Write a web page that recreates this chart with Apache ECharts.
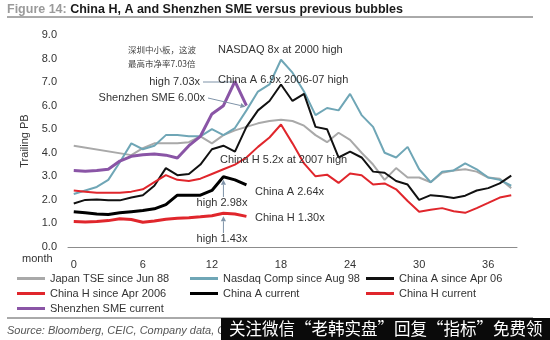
<!DOCTYPE html>
<html><head><meta charset="utf-8">
<script src="https://cdn.jsdelivr.net/npm/echarts@6/dist/echarts.min.js"></script>
<style>html,body{margin:0;padding:0;background:#fff}#c{width:550px;height:340px}</style>
</head><body><div id="c"></div>
<script>
// ---- data ----
const months = ["0","1","2","3","4","5","6","7","8","9","10","11","12","13","14","15","16","17","18","19","20","21","22","23","24","25","26","27","28","29","30","31","32","33","34","35","36","37","38"];
const yTicks = [0,1,2,3,4,5,6,7,8,9];
const japanTSE = [4.3,null,null,null,null,3.9,4.2,4.4,4.4,4.4,4.45,4.7,4.4,4.75,4.95,5.1,5.25,5.35,5.4,5.35,5.15,4.75,4.45,4.85,4.55,4.0,3.5,2.85,3.35,2.95,2.95,2.75,3.15,3.25,3.3,3.2,2.95,2.9,2.5];
const nasdaq = [2.25,2.4,2.55,2.85,3.6,4.4,4.15,4.3,4.75,4.75,4.7,4.7,5.0,4.75,5.05,5.8,6.6,6.9,7.95,7.4,6.6,5.6,5.9,5.8,6.5,5.6,5.1,4.0,3.8,4.25,3.3,2.75,3.2,3.25,3.55,3.3,2.95,2.85,2.6];
const chinaASince = [1.85,2.0,2.02,1.98,1.98,2.1,2.2,2.6,3.35,3.05,3.1,3.5,4.15,4.3,4.05,5.1,5.8,6.2,6.9,6.2,6.5,5.1,5.0,3.8,4.05,3.8,3.2,3.15,2.8,2.65,2.0,2.2,2.15,2.08,2.18,2.4,2.5,2.7,3.03];
const chinaHSince = [2.4,2.35,2.3,2.3,2.3,2.35,2.45,2.75,3.05,2.85,2.8,2.9,3.1,3.3,3.5,3.8,4.25,4.65,5.2,4.4,3.55,3.0,3.07,2.72,3.12,3.05,2.65,2.7,2.45,1.95,1.5,1.58,1.65,1.52,1.45,1.65,1.87,2.1,2.2];
const chinaACurrent = [1.5,1.45,1.4,1.38,1.45,1.5,1.55,1.62,1.8,2.2,2.2,2.2,2.4,2.98,2.85,2.64];
const chinaHCurrent = [1.08,1.06,1.08,1.12,1.2,1.17,1.05,1.1,1.18,1.22,1.24,1.28,1.33,1.43,1.4,1.30];
const smeCurrent = [3.25,3.22,3.25,3.3,3.65,3.85,3.92,3.95,3.9,3.78,4.3,4.7,5.65,6.0,7.03,6.0];
const seriesNames = ["Japan TSE since Jun 88","Nasdaq Comp since Aug 98","China A since Apr 06","China H since Apr 2006","China A current","China H current","Shenzhen SME current"];

const FONT = '"Liberation Sans", Arial, sans-serif';
const CJK = '"Noto Sans CJK SC", sans-serif';
const chart = echarts.init(document.getElementById('c'), null, {renderer:'canvas'});

function mk(name, data, color, width, z){
  return {name, type:'line', data, symbol:'none', smooth:false, connectNulls:true,
    lineStyle:{color, width}, itemStyle:{color}, z};
}
const legendBase = {orient:'vertical', icon:'rect', itemWidth:28, itemHeight:3, itemGap:4,
  textStyle:{color:'#333', fontSize:11, fontFamily:FONT}, padding:0, selectedMode:false};

chart.setOption({
  animation:false,
  textStyle:{fontFamily:FONT},
  title:{left:7, top:3, padding:0,
    text:'{a|Figure 14: }{b|China H, A and Shenzhen SME versus previous bubbles}',
    textStyle:{rich:{a:{color:'#9a9a9a', fontSize:12.5, fontFamily:FONT},
                     b:{color:'#1a1a1a', fontSize:12.5, fontWeight:'bold', fontFamily:FONT}}}},
  grid:{left:68, right:33, top:35, bottom:93},
  xAxis:{type:'category', data:months, boundaryGap:true,
    axisLine:{lineStyle:{color:'#8c8c8c', width:1}},
    axisTick:{interval:0, length:3, lineStyle:{color:'#8c8c8c'}},
    axisLabel:{interval:5, color:'#333', fontSize:11, margin:12, fontFamily:FONT}},
  yAxis:{type:'value', min:yTicks[0], max:yTicks[yTicks.length-1], interval:1,
    axisLine:{show:false}, axisTick:{show:false}, splitLine:{show:false},
    axisLabel:{formatter:v=>v.toFixed(1), color:'#333', fontSize:11, margin:11, fontFamily:FONT},
    name:'Trailing PB', nameLocation:'middle', nameRotate:90, nameGap:38,
    nameTextStyle:{color:'#333', fontSize:11, fontFamily:FONT}},
  legend:[
    Object.assign({left:17, top:273, data:[seriesNames[0],seriesNames[3],seriesNames[6]]}, legendBase),
    Object.assign({left:190, top:273, data:[seriesNames[1],seriesNames[4]]}, legendBase),
    Object.assign({left:366, top:273, data:[seriesNames[2],seriesNames[5]]}, legendBase)
  ],
  series:[
    mk(seriesNames[0], japanTSE, '#a9a9a9', 2, 1),
    mk(seriesNames[1], nasdaq, '#6fa6b6', 2, 2),
    mk(seriesNames[2], chinaASince, '#111111', 2, 3),
    mk(seriesNames[3], chinaHSince, '#e0262c', 2, 3),
    mk(seriesNames[4], chinaACurrent, '#000000', 3, 4),
    mk(seriesNames[5], chinaHCurrent, '#e0262c', 3, 4),
    mk(seriesNames[6], smeCurrent, '#8a55a6', 3, 5)
  ]
});

// ---- annotations ----
const P = (i, v) => chart.convertToPixel({gridIndex:0}, [i, v]);
function txt(x, y, text, opt){
  opt = opt || {};
  return {type:'text', x, y, z:50, silent:true, style:{text, fill:opt.fill||'#333',
    font:(opt.italic?'italic ':'')+(opt.bold?'bold ':'')+(opt.size||11)+'px '+(opt.family||FONT),
    textAlign:opt.align||'left', align:opt.align||'left',
    textVerticalAlign:'middle', verticalAlign:'middle'}};
}
function arrow(x1,y1,x2,y2,color){
  const a=Math.atan2(y2-y1,x2-x1), L=5, W=2.6;
  const bx=x2-L*Math.cos(a), by=y2-L*Math.sin(a);
  const nx=-Math.sin(a), ny=Math.cos(a);
  return [
    {type:'line', z:50, silent:true, shape:{x1,y1,x2:bx,y2:by}, style:{stroke:color, lineWidth:1}},
    {type:'polygon', z:50, silent:true, shape:{points:[[x2,y2],[bx+nx*W,by+ny*W],[bx-nx*W,by-ny*W]]}, style:{fill:color}}
  ];
}
const AC = '#7f93a8';
const pSmeHigh = P(14, smeCurrent[14]);
const pSmeEnd = P(15, smeCurrent[15]);
const pAHigh = P(13, chinaACurrent[13]);
const pHHigh = P(13, chinaHCurrent[13]);

const g = [
  {type:'line', silent:true, shape:{x1:7,y1:17,x2:533,y2:17}, style:{stroke:'#555', lineWidth:1}},
  {type:'line', silent:true, shape:{x1:7,y1:318,x2:533,y2:318}, style:{stroke:'#555', lineWidth:1}},
  txt(22, 259, 'month', {size:11}),
  txt(128, 50, '深圳中小板，这波', {size:8.5, family:CJK, fill:'#444'}),
  txt(128, 64, '最高市净率7.03倍', {size:8.5, family:CJK, fill:'#444'}),
  txt(200, 82, 'high 7.03x', {align:'right'}),
  {type:'line', z:50, silent:true, shape:{x1:203,y1:82,x2:pSmeHigh[0]-1,y2:82}, style:{stroke:AC, lineWidth:1}},
  txt(205, 98, 'Shenzhen SME 6.00x', {align:'right'}),
  ...arrow(208, 98, pSmeEnd[0]-1, pSmeEnd[1]+1, AC),
  txt(218, 50, 'NASDAQ 8x at 2000 high'),
  txt(218, 80, 'China A 6.9x 2006-07 high'),
  txt(220, 160, 'China H 5.2x at 2007 high'),
  txt(255, 192, 'China A 2.64x'),
  txt(255, 218, 'China H 1.30x'),
  txt(222, 203, 'high 2.98x', {align:'center'}),
  ...arrow(pAHigh[0], 197, pAHigh[0], pAHigh[1]+3, AC),
  txt(222, 239, 'high 1.43x', {align:'center'}),
  ...arrow(pHHigh[0], 233, pHHigh[0], pHHigh[1]+3, AC),
  txt(7, 331, 'Source: Bloomberg, CEIC, Company data, Credit Suisse', {italic:true, size:11, fill:'#555'}),
  {type:'rect', z:60, silent:true, shape:{x:221, y:318, width:329, height:22}, style:{fill:'#0a0a0a'}},
  {type:'text', z:61, silent:true, x:229, y:329, style:{text:'关注微信“老韩实盘”回复“指标”免费领', fill:'#fff',
    font:'16.5px '+CJK, textVerticalAlign:'middle', verticalAlign:'middle'}}
];
chart.setOption({graphic:{elements:g}});
</script>
</body></html>
